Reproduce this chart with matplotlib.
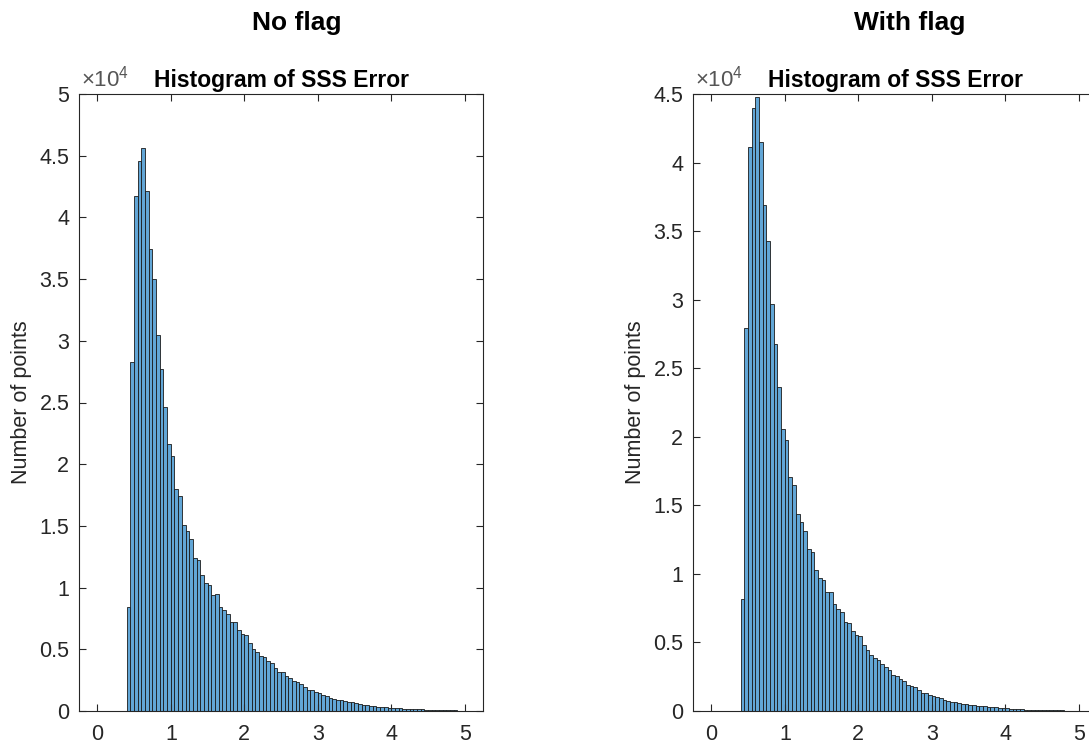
import numpy as np
import matplotlib
matplotlib.use('Agg')
import matplotlib.pyplot as plt
from matplotlib.ticker import FuncFormatter, MultipleLocator

plt.rcParams['font.family'] = ['Liberation Sans', 'DejaVu Sans']
plt.rcParams['mathtext.fontset'] = 'custom'
plt.rcParams['mathtext.rm'] = 'Liberation Sans'

# bin edges 0:0.05:5, counts
bin_edges = [round(0.05 * i, 2) for i in range(101)]

no_flag = [20, 20, 20, 20, 20, 20, 20, 0,
           8400, 28300, 41700, 44600, 45600, 42100, 37400, 35000, 30500, 27700,
           24600, 21600, 20700, 18000, 17400, 15100, 14600, 13900, 12400, 12200,
           11000, 10400, 10200, 9400, 9500, 8450, 8200, 7900, 7200, 7200,
           6580, 6270, 6130, 5500, 5020, 4810, 4420, 4370, 4090, 3880,
           3510, 3160, 3190, 2870, 2670, 2470, 2390, 2220, 1960, 1730,
           1720, 1560, 1440, 1280, 1220, 1090, 1005, 924, 869, 788,
           734, 706, 625, 543, 489, 462, 435, 408, 353, 353,
           299, 272, 245, 245, 217, 190, 190, 163, 163, 136,
           136, 109, 109, 109, 82, 82, 82, 54, 54, 54, 40, 27]

with_flag = [20, 20, 20, 20, 20, 20, 20, 0,
             8140, 27900, 41100, 44000, 44800, 41500, 36900, 34300, 29700, 26800,
             23600, 20600, 19800, 17100, 16500, 14400, 13800, 13100, 11800, 11600,
             10280, 9700, 9550, 8700, 8680, 7800, 7460, 7200, 6500, 6450,
             5860, 5540, 5470, 4850, 4460, 4090, 3850, 3700, 3410, 3190,
             2970, 2630, 2580, 2360, 2170, 1920, 1850, 1750, 1510, 1315,
             1290, 1170, 1100, 1000, 925, 830, 705, 680, 660, 585,
             535, 487, 463, 440, 390, 340, 340, 316, 290, 270,
             245, 245, 195, 146, 146, 122, 122, 97, 97, 97,
             73, 73, 73, 49, 49, 49, 49, 40, 35, 30, 24, 24]

panel_titles = ['No flag', 'With flag']
y_limits = [5e4, 4.5e4]

bar_color = '#62a6d6'
axis_color = '#262626'

fig = plt.figure(figsize=(10.89, 7.44), dpi=100)
axes = [fig.add_axes([79 / 1089, 33 / 744, 404 / 1089, 617 / 744]),
        fig.add_axes([693 / 1089, 33 / 744, 404 / 1089, 617 / 744])]
title_x = [297 / 1089, 910 / 1089]

edges = np.array(bin_edges)
for ax, counts, ttl, ymax, tx in zip(axes, [no_flag, with_flag], panel_titles, y_limits, title_x):
    ax.bar(edges[:-1], counts, width=np.diff(edges), align='edge',
           color=bar_color, edgecolor='#1a1a1a', linewidth=0.6)
    ax.set_xlim(-0.25, 5.25)
    ax.set_ylim(0, ymax)
    ax.xaxis.set_major_locator(MultipleLocator(1))
    ax.yaxis.set_major_locator(MultipleLocator(5000))
    ax.yaxis.set_major_formatter(FuncFormatter(lambda v, p: '%g' % (v / 1e4)))
    ax.tick_params(direction='in', length=5, width=0.8, colors=axis_color,
                   labelsize=15.5, top=True, right=True)
    ax.tick_params(axis='x', pad=9)
    ax.tick_params(axis='y', pad=7)
    for s in ax.spines.values():
        s.set_color(axis_color)
        s.set_linewidth(0.8)
    ax.set_ylabel('Number of points', fontsize=15.5, color=axis_color)
    ax.yaxis.set_label_coords(-0.117, 0.5)
    ax.set_title('Histogram of SSS Error', fontsize=16.5, fontweight='bold', pad=5)
    ax.text(0.005, 1.004, r'$\times10^{4}$', transform=ax.transAxes,
            ha='left', va='bottom', fontsize=16, color='#555555')
    fig.text(tx, 1 - 23 / 744, ttl, ha='center', va='center',
             fontsize=19, fontweight='bold')

fig.savefig('out.png', dpi=100)
